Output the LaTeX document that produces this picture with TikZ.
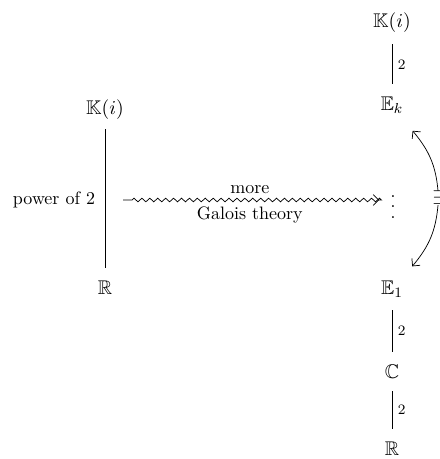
\documentclass[tikz,border=0pt]{standalone}
\usepackage{amssymb}
\usetikzlibrary{decorations.pathmorphing,arrows.meta}
\newcommand{\myvdots}{\vbox{\baselineskip5.6pt \lineskiplimit0pt \hbox{.}\hbox{.}\hbox{.}}}
\begin{document}
\begin{tikzpicture}[x=0.5556pt,y=-0.5556pt,
  >={Straight Barb[length=3pt,width=6pt]},
  obj/.style={inner sep=0pt, font=\fontsize{11}{13}\selectfont},
  lab/.style={font=\footnotesize, right, inner sep=3pt},
  link/.style={shorten <=7pt, shorten >=7pt},
  wave/.style={->, decorate, decoration={zigzag, segment length=4.4pt, amplitude=1pt, pre length=5pt, post length=3pt}},
  bendarrow/.style={->}]
\useasboundingbox (0,0) rectangle (440,459);
\clip (0,0) rectangle (440,459);
% left column
\node[obj] (K1) at (105,110) {$\mathbb{K}(i)$};
\node[obj] (R1) at (105,288) {$\mathbb{R}$};
\node (pw) at (54,200) {power of 2};
\draw[link, shorten <=5pt] (K1) -- (R1);
% wavy arrow
\coordinate (ws) at (123,200);
\node[obj] (vd) at (393,207) {\myvdots};
\draw[wave, shorten >=6pt] (ws) -- node[pos=0.475, above]{more} node[pos=0.475, below]{Galois theory} (ws -| vd.west);
% right column
\node[obj] (K2) at (392,23) {$\mathbb{K}(i)$};
\node[obj] (Ek) at (392,105) {$\mathbb{E}_k$};
\node[obj] (E1) at (392,289) {$\mathbb{E}_1$};
\node[obj] (C) at (392,371.5) {$\mathbb{C}$};
\node[obj] (R2) at (392,448.5) {$\mathbb{R}$};
\node[obj] (ex) at (438,198) {$\exists$};
\draw[link, shorten <=6pt] (K2) -- node[lab]{2} (Ek);
\draw[link] (E1) -- node[lab]{2} (C);
\draw[link] (C) -- node[lab]{2} (R2);
\draw[bendarrow] (ex.north) to[out=95, in=-50] ([shift={(9,17)}]Ek.south east);
\draw[bendarrow] (ex.south) to[out=-95, in=50] ([shift={(9,-14)}]E1.north east);
\end{tikzpicture}
\end{document}
